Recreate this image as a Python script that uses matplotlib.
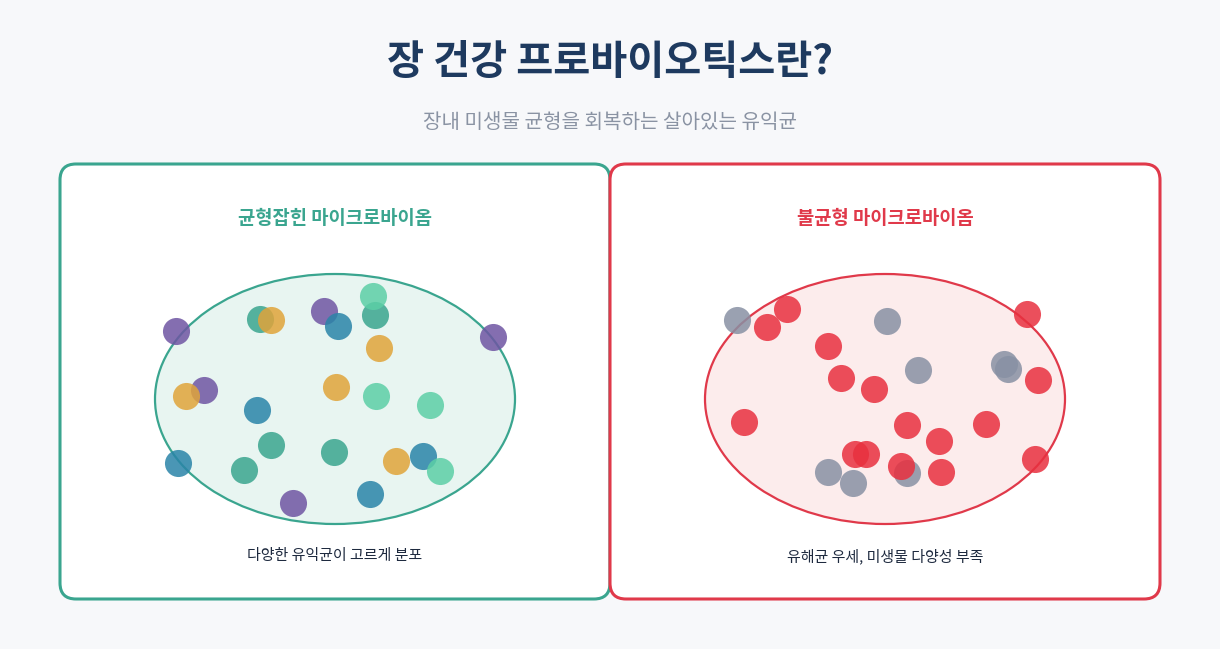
import matplotlib
matplotlib.use("Agg")
import matplotlib.pyplot as plt
from matplotlib.patches import FancyBboxPatch, Ellipse

plt.rcParams['font.family'] = ['Noto Sans CJK KR', 'DejaVu Sans']

title = "장 건강 프로바이오틱스란?"
subtitle = "장내 미생물 균형을 회복하는 살아있는 유익균"
panel_titles = ["균형잡힌 마이크로바이옴", "불균형 마이크로바이옴"]
captions = ["다양한 유익균이 고르게 분포", "유해균 우세, 미생물 다양성 부족"]

left_groups = {
    "#6f55a3": [(176,331),(204,390),(324,311),(493,337),(293,503)],
    "#3aa58f": [(260,319),(375,315),(271,445),(334,452),(244,470)],
    "#e0a43a": [(271,320),(379,348),(186,396),(336,387),(396,461)],
    "#2a84a8": [(338,326),(257,410),(178,463),(423,456),(370,494)],
    "#5ccfa6": [(373,296),(376,396),(430,405),(440,471)],
}
right_red = [(787,309),(767,327),(828,346),(841,378),(874,389),(1027,314),(1038,380),
             (744,422),(907,425),(939,441),(986,424),(855,454),(866,454),(901,466),
             (941,472),(1035,459)]
right_gray = [(737,320),(887,321),(918,370),(1004,364),(1008,369),(828,472),(853,483),(907,473)]

fig = plt.figure(figsize=(12.2, 6.49), dpi=100)
fig.patch.set_facecolor("#f7f8fa")
ax = fig.add_axes([0, 0, 1, 1])
ax.set_xlim(0, 1220); ax.set_ylim(649, 0); ax.axis("off")

ax.text(610, 62, title, ha="center", va="center", fontsize=29, fontweight="bold", color="#1e3a5f")
ax.text(610, 122, subtitle, ha="center", va="center", fontsize=14.5, color="#8a93a3")

teal = "#3aa58f"; red = "#e0394a"
for x0, ec, fc, pt, cap in [(60, teal, "#e8f5f1", panel_titles[0], captions[0]),
                            (610, red, "#fcecec", panel_titles[1], captions[1])]:
    ax.add_patch(FancyBboxPatch((x0, 164), 550, 435, boxstyle="round,pad=0,rounding_size=16",
                                fc="white", ec=ec, lw=2.2, zorder=1))
    cx = x0 + 275
    ax.add_patch(Ellipse((cx, 399), 360, 250, fc=fc, ec=ec, lw=1.6, zorder=2))
    ax.text(cx, 218, pt, ha="center", va="center", fontsize=13.5, fontweight="bold", color=ec)
    ax.text(cx, 556, cap, ha="center", va="center", fontsize=10.8, color="#1e2a3f")

S = 380
for c, pts in left_groups.items():
    ax.scatter([p[0] for p in pts], [p[1] for p in pts], s=S, c=c, alpha=0.85, lw=0, zorder=3)
ax.scatter([p[0] for p in right_gray], [p[1] for p in right_gray], s=S, c="#8891a4", alpha=0.85, lw=0, zorder=3)
ax.scatter([p[0] for p in right_red], [p[1] for p in right_red], s=S, c="#e8303f", alpha=0.85, lw=0, zorder=3)

fig.savefig("out.png", dpi=100, facecolor=fig.get_facecolor())
